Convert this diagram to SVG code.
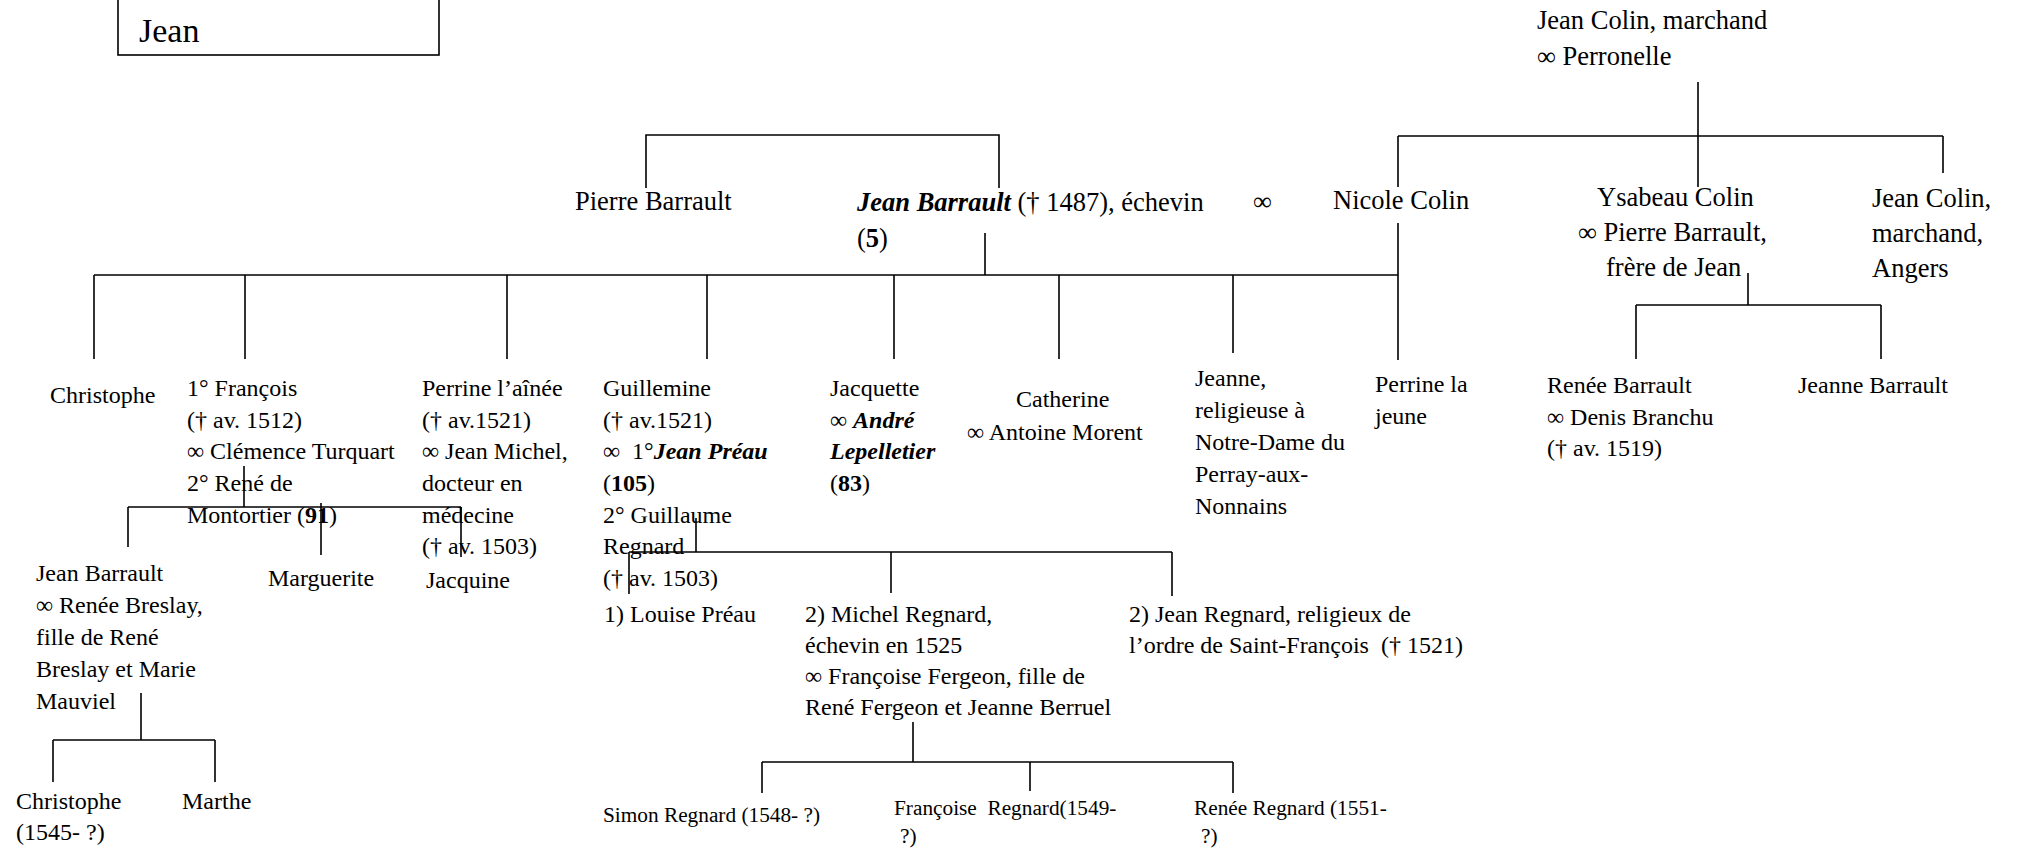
<svg xmlns="http://www.w3.org/2000/svg" width="2018" height="848" viewBox="0 0 2018 848">
<style>
text{font-family:"Liberation Serif","Times New Roman",serif;fill:#000;font-size:24px}
.l{font-size:26.5px}
.s{font-size:21.3px}
.big{font-size:34px}
.b{font-weight:bold}
.bi{font-weight:bold;font-style:italic}
.pre{white-space:pre}
.c path{fill:none;stroke:#000;stroke-width:1.6}
.box{fill:none;stroke:#000;stroke-width:1.6}
</style>
<rect width="2018" height="848" fill="#fff"/>
<g class="c" id="connectors">
<path d="M1698 82V187M1398 136H1943M1398 136V187M1943 136V173"/>
<path d="M646 188V135H999V188"/>
<path d="M985 233V275M94 275H1398M1398 223V360M94 275V359M245 275V359M507 275V359M707 275V359M894 275V359M1059 275V359M1233 275V353"/>
<path d="M1748 273V305M1636 305H1881M1636 305V359M1881 305V359"/>
<path d="M244 466V507M128 507H461M128 507V547M321 503V555M461 507V557"/>
<path d="M696 518V552M629 552H1172M629 552V594M891 552V593M1172 552V596"/>
<path d="M141 693V740M53 740H215M53 740V782M215 740V782"/>
<path d="M913 722V762M762 762H1233M762 762V793M1030 762V791M1233 762V793"/>
</g>
<g id="n-jean-box"><rect class="box" x="118" y="-10" width="321" height="65"/><text class="big" x="139" y="42">Jean</text></g>
<g id="n-jean-colin"><text class="l" x="1537" y="29">Jean Colin, marchand</text><text class="l" x="1537" y="65">∞ Perronelle</text></g>
<g id="n-pierre"><text class="l" x="575" y="210">Pierre Barrault</text></g>
<g id="n-jean-barrault"><text class="l" x="857" y="211"><tspan class="bi">Jean Barrault</tspan> († 1487), échevin</text><text class="l" x="857" y="247">(<tspan class="b">5</tspan>)</text></g>
<g id="n-marriage"><text class="l" x="1253" y="210">∞</text></g>
<g id="n-nicole"><text class="l" x="1333" y="209">Nicole Colin</text></g>
<g id="n-ysabeau"><text class="l" x="1597" y="206">Ysabeau Colin</text><text class="l" x="1578" y="241">∞ Pierre Barrault,</text><text class="l" x="1606" y="276">frère de Jean</text></g>
<g id="n-jean-colin2"><text class="l" x="1872" y="207">Jean Colin,</text><text class="l" x="1872" y="242">marchand,</text><text class="l" x="1872" y="277">Angers</text></g>
<g id="n-christophe"><text x="50" y="403">Christophe</text></g>
<g id="n-francois"><text x="187" y="396">1° François</text><text x="187" y="427.7">(† av. 1512)</text><text x="187" y="459.3">∞ Clémence Turquart</text><text x="187" y="491">2° René de</text><text x="187" y="522.7">Montortier (<tspan class="b">91</tspan>)</text></g>
<g id="n-perrine"><text x="422" y="396">Perrine l’aînée</text><text x="422" y="427.7">(† av.1521)</text><text x="422" y="459.3">∞ Jean Michel,</text><text x="422" y="491">docteur en</text><text x="422" y="522.7">médecine</text><text x="422" y="554.3">(† av. 1503)</text></g>
<g id="n-guillemine"><text x="603" y="396">Guillemine</text><text x="603" y="427.7">(† av.1521)</text><text class="pre" x="603" y="459.3">∞  1°<tspan class="bi">Jean Préau</tspan></text><text x="603" y="491">(<tspan class="b">105</tspan>)</text><text x="603" y="522.7">2° Guillaume</text><text x="603" y="554.3">Regnard</text><text x="603" y="586">(† av. 1503)</text></g>
<g id="n-jacquette"><text x="830" y="396">Jacquette</text><text x="830" y="427.7">∞ <tspan class="bi">André</tspan></text><text class="bi" x="830" y="459.3">Lepelletier</text><text x="830" y="491">(<tspan class="b">83</tspan>)</text></g>
<g id="n-catherine"><text x="1016" y="407">Catherine</text><text x="967" y="440">∞ Antoine Morent</text></g>
<g id="n-jeanne"><text x="1195" y="386">Jeanne,</text><text x="1195" y="418">religieuse à</text><text x="1195" y="450">Notre-Dame du</text><text x="1195" y="482">Perray-aux-</text><text x="1195" y="514">Nonnains</text></g>
<g id="n-perrine-jeune"><text x="1375" y="392">Perrine la</text><text x="1375" y="424">jeune</text></g>
<g id="n-renee-barrault"><text x="1547" y="393">Renée Barrault</text><text x="1547" y="425">∞ Denis Branchu</text><text x="1547" y="456">(† av. 1519)</text></g>
<g id="n-jeanne-barrault"><text x="1798" y="393">Jeanne Barrault</text></g>
<g id="n-jean-barrault2"><text x="36" y="581">Jean Barrault</text><text x="36" y="613">∞ Renée Breslay,</text><text x="36" y="645">fille de René</text><text x="36" y="677">Breslay et Marie</text><text x="36" y="709">Mauviel</text></g>
<g id="n-marguerite"><text x="268" y="586">Marguerite</text></g>
<g id="n-jacquine"><text x="426" y="588">Jacquine</text></g>
<g id="n-louise"><text x="604" y="621.7">1) Louise Préau</text></g>
<g id="n-michel"><text x="805" y="621.7">2) Michel Regnard,</text><text x="805" y="652.7">échevin en 1525</text><text x="805" y="684">∞ Françoise Fergeon, fille de</text><text x="805" y="715">René Fergeon et Jeanne Berruel</text></g>
<g id="n-jean-regnard"><text x="1129" y="621.7">2) Jean Regnard, religieux de</text><text class="pre" x="1129" y="652.7">l’ordre de Saint-François  († 1521)</text></g>
<g id="n-christophe2"><text x="16" y="809">Christophe</text><text x="16" y="840">(1545- ?)</text></g>
<g id="n-marthe"><text x="182" y="809">Marthe</text></g>
<g id="n-simon"><text class="s" x="603" y="822">Simon Regnard (1548- ?)</text></g>
<g id="n-francoise"><text class="s pre" x="894" y="815">Françoise  Regnard(1549-</text><text class="s" x="900" y="843">?)</text></g>
<g id="n-renee-regnard"><text class="s" x="1194" y="815">Renée Regnard (1551-</text><text class="s" x="1201" y="843">?)</text></g>
</svg>
